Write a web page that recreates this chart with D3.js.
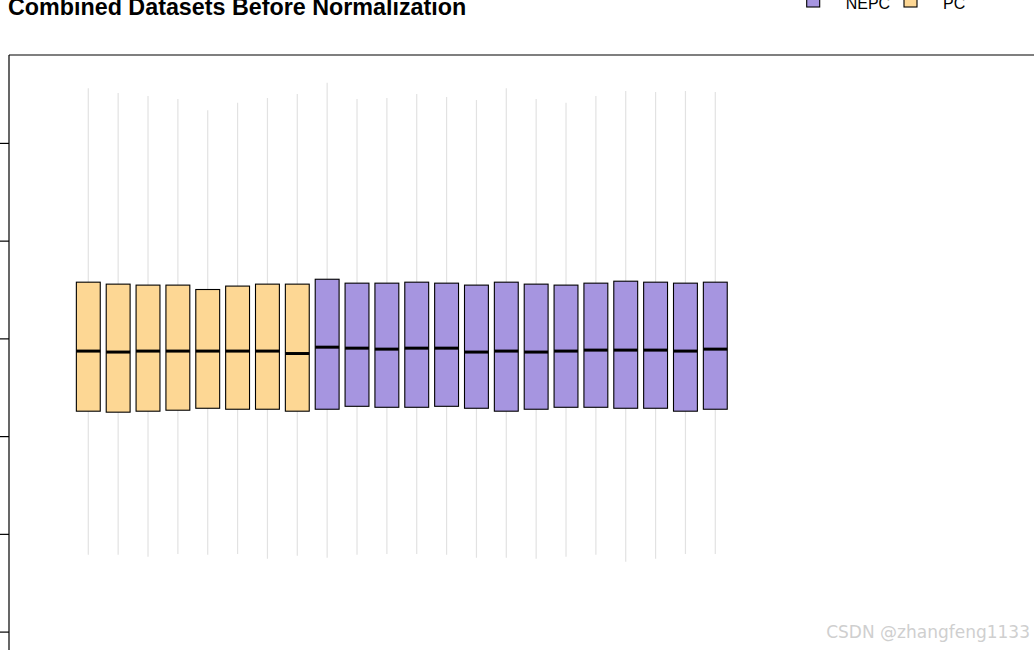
<!DOCTYPE html>
<html>
<head>
<meta charset="utf-8">
<script src="https://cdn.jsdelivr.net/npm/d3@7"></script>
<style>
  html, body { margin: 0; padding: 0; background: #fff; overflow: hidden; }
  svg { display: block; }
</style>
</head>
<body>
<svg id="chart" width="1034" height="650"></svg>
<script>
// ---- data ----
const samples = ["PC1","PC2","PC3","PC4","PC5","PC6","PC7","PC8",
  "NEPC1","NEPC2","NEPC3","NEPC4","NEPC5","NEPC6","NEPC7","NEPC8","NEPC9",
  "NEPC10","NEPC11","NEPC12","NEPC13","NEPC14"];
const groups = ["PC","PC","PC","PC","PC","PC","PC","PC",
  "NEPC","NEPC","NEPC","NEPC","NEPC","NEPC","NEPC","NEPC","NEPC",
  "NEPC","NEPC","NEPC","NEPC","NEPC"];
const whiskerMax = [13.12,13.02,12.96,12.90,12.67,12.82,12.92,13.00,
  13.23,12.90,12.92,13.00,12.94,12.88,13.12,12.90,12.82,12.96,13.06,13.04,13.06,13.04];
const q3 = [9.15,9.11,9.09,9.09,9.00,9.07,9.11,9.11,
  9.21,9.13,9.13,9.15,9.13,9.09,9.15,9.11,9.09,9.13,9.17,9.15,9.13,9.15];
const medians = [7.74,7.72,7.74,7.74,7.74,7.74,7.74,7.69,
  7.82,7.80,7.78,7.80,7.80,7.72,7.74,7.72,7.74,7.76,7.76,7.76,7.74,7.78];
const q1 = [6.51,6.49,6.51,6.53,6.57,6.55,6.55,6.51,
  6.55,6.61,6.59,6.59,6.61,6.57,6.51,6.55,6.59,6.59,6.57,6.57,6.51,6.55];
const whiskerMin = [3.57,3.57,3.53,3.59,3.57,3.59,3.49,3.55,
  3.51,3.57,3.59,3.59,3.57,3.51,3.51,3.49,3.53,3.57,3.43,3.49,3.59,3.59];
const yTicks = [2,4,6,8,10,12];
const legendLabels = ["NEPC","PC"];
const groupColors = {"NEPC":"#a695e0","PC":"#fdd794"};
const titleText = "Combined Datasets Before Normalization";
const watermark = "CSDN @zhangfeng1133";

// ---- layout ----
const svg = d3.select("#chart");
const frameLeft = 9, frameTop = 55;

const x = d3.scaleLinear().domain([1, samples.length]).range([88.3, 715.3]);
const step = x(2) - x(1);
const boxW = 0.8 * step;
const y = d3.scaleLinear().domain([2, 12]).range([631.6, 142.9]);

// frame (top + left sides visible; the rest is outside the window)
svg.append("line").attr("x1", frameLeft).attr("x2", 1040).attr("y1", frameTop).attr("y2", frameTop)
  .attr("stroke", "#000").attr("stroke-width", 1.2);
svg.append("line").attr("x1", frameLeft).attr("x2", frameLeft).attr("y1", frameTop).attr("y2", 660)
  .attr("stroke", "#000").attr("stroke-width", 1.2);

// y axis (its labels lie outside the visible window in the reference, so none are drawn)
const yAxis = d3.axisLeft(y).tickValues(yTicks).tickSize(9).tickFormat(() => "");
const ag = svg.append("g").attr("transform", `translate(${frameLeft},0)`).call(yAxis);
ag.select(".domain").remove();
ag.selectAll(".tick line").attr("stroke", "#000").attr("stroke-width", 1.2);
ag.selectAll(".tick text").remove();

const idx = d3.range(samples.length);

// whiskers
svg.append("g").selectAll("line").data(idx).join("line")
  .attr("x1", i => x(i + 1)).attr("x2", i => x(i + 1))
  .attr("y1", i => y(whiskerMax[i])).attr("y2", i => y(whiskerMin[i]))
  .attr("stroke", "#e2e2e2").attr("stroke-width", 1.2);

// boxes
svg.append("g").selectAll("rect").data(idx).join("rect")
  .attr("x", i => x(i + 1) - boxW / 2).attr("width", boxW)
  .attr("y", i => y(q3[i])).attr("height", i => y(q1[i]) - y(q3[i]))
  .attr("fill", i => groupColors[groups[i]])
  .attr("stroke", "#000").attr("stroke-width", 1.1);

// medians
svg.append("g").selectAll("line").data(idx).join("line")
  .attr("x1", i => x(i + 1) - boxW / 2).attr("x2", i => x(i + 1) + boxW / 2)
  .attr("y1", i => y(medians[i])).attr("y2", i => y(medians[i]))
  .attr("stroke", "#000").attr("stroke-width", 3);

// title
svg.append("text").attr("x", 8).attr("y", 15)
  .attr("font-family", "Liberation Sans, Arial, sans-serif").attr("font-weight", "bold")
  .attr("font-size", 23.3).attr("fill", "#000").text(titleText);

// legend
const legendX = [806.7, 904];
const lg = svg.append("g");
legendLabels.forEach((lab, k) => {
  lg.append("rect").attr("x", legendX[k]).attr("y", -6).attr("width", 13).attr("height", 13)
    .attr("fill", groupColors[lab]).attr("stroke", "#000").attr("stroke-width", 1.1);
  lg.append("text").attr("x", legendX[k] + 39).attr("y", 9)
    .attr("font-family", "Liberation Sans, Arial, sans-serif").attr("font-size", 16)
    .attr("fill", "#000").text(lab);
});

// watermark
svg.append("text").attr("x", 1030).attr("y", 638).attr("text-anchor", "end")
  .attr("font-family", "DejaVu Sans, sans-serif").attr("font-size", 17)
  .attr("fill", "#cfcfcf").text(watermark);
</script>
</body>
</html>
